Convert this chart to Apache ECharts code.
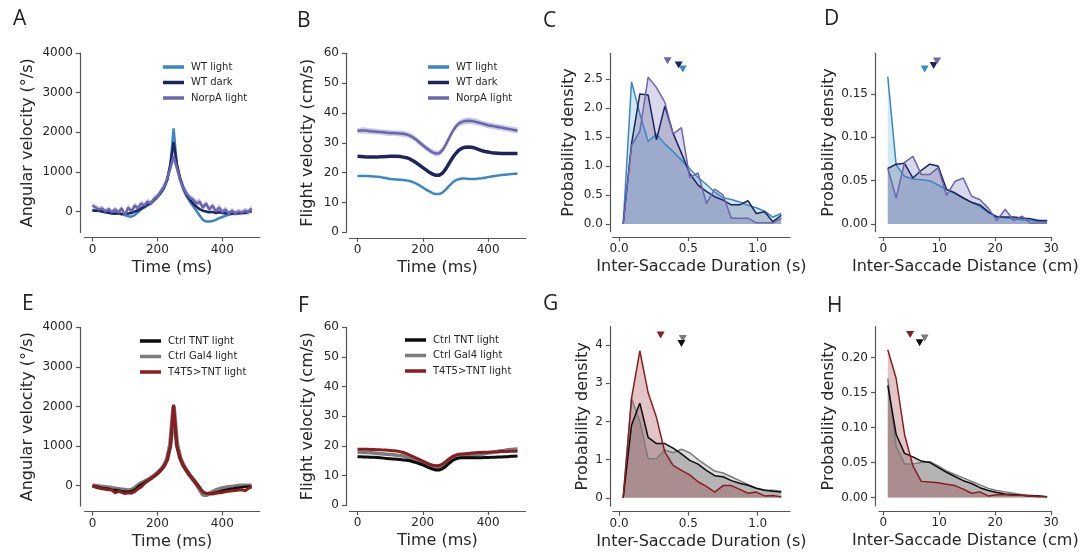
<!DOCTYPE html>
<html><head><meta charset="utf-8">
<script src="https://cdn.jsdelivr.net/npm/echarts@6/dist/echarts.min.js"></script>
<style>html,body{margin:0;padding:0;background:#fff}#c{width:1087px;height:553px}</style>
</head><body><div id="c"></div>
<script>
// ---------- DATA ----------
const T = [0,10,20,30,40,50,60,70,80,90,100,110,120,130,140,150,160,170,180,190,200,210,220,230,240,250,260,270,280,290,300,310,320,330,340,350,360,370,380,390,400,410,420,430,440,450,460,470,480,490];
const durBins = [0.03,0.09,0.15,0.21,0.27,0.33,0.39,0.45,0.51,0.57,0.63,0.69,0.75,0.81,0.87,0.93,0.99,1.05,1.11,1.17];
const distBins = [0.8,2.3,3.8,5.3,6.8,8.3,9.8,11.3,12.8,14.3,15.8,17.3,18.8,20.3,21.8,23.3,24.8,26.3,27.8,29.3];

// Panel A: angular velocity (deg/s)
const A_wtLight = [20,20,10,0,-10,-20,-30,-40,-50,-60,-80,-120,-130,-90,-20,50,100,150,210,280,360,450,580,780,1150,2100,1150,800,550,380,250,130,20,-100,-210,-250,-250,-240,-210,-170,-140,-110,-80,-60,-40,-30,-20,-10,0,0];
const A_wtDark = [30,20,30,0,-20,-30,-50,-60,-40,-70,-60,-50,-40,0,30,80,120,180,220,300,380,480,600,800,1200,1750,1200,850,600,420,300,200,120,60,20,0,-20,-10,-40,-20,-30,-50,-30,-60,-40,-50,-30,-40,-10,10];
const A_norpA = [150,100,50,80,0,60,-20,50,-30,80,-100,100,0,150,80,200,150,250,200,320,380,500,620,820,1100,1400,1100,800,600,450,350,300,200,250,100,200,50,150,0,100,-20,50,-60,20,-50,0,-30,20,-20,80];
const A_norpA_sem = [70,70,75,70,65,75,70,75,80,75,85,80,75,80,75,80,85,80,75,80,85,90,100,110,130,150,130,110,95,90,85,80,85,90,80,85,80,75,80,85,80,75,70,75,80,75,70,75,80,85];

// Panel B: flight velocity (cm/s)
const B_wtLight = [18.9,18.9,18.9,18.9,18.8,18.7,18.6,18.5,18.3,18.1,17.9,17.8,17.7,17.6,17.5,17.4,17.2,16.8,16.3,15.7,15.0,14.3,13.7,13.1,12.8,12.8,13.3,14.3,15.5,16.6,17.4,17.8,18.0,18.0,17.9,17.9,17.9,18.0,18.1,18.3,18.5,18.7,18.9,19.0,19.2,19.3,19.4,19.5,19.6,19.6];
const B_wtDark = [25.5,25.4,25.3,25.2,25.2,25.2,25.2,25.3,25.3,25.4,25.5,25.5,25.5,25.4,25.2,25.0,24.6,24.0,23.3,22.5,21.7,20.9,20.1,19.5,19.1,19.1,19.8,21.2,23.0,24.8,26.3,27.5,28.2,28.5,28.6,28.5,28.2,27.8,27.4,27.1,26.9,26.7,26.6,26.5,26.4,26.4,26.4,26.4,26.4,26.4];
const B_norpA = [34.0,34.1,34.1,34.0,33.9,33.8,33.7,33.6,33.5,33.4,33.3,33.3,33.2,33.1,33.0,32.8,32.4,31.8,31.0,30.1,29.2,28.3,27.5,26.8,26.4,26.5,27.5,29.3,31.5,33.6,35.3,36.4,37.0,37.3,37.4,37.3,37.1,36.8,36.5,36.2,35.9,35.7,35.5,35.3,35.1,34.9,34.7,34.5,34.3,34.1];
const B_norpA_sem = [1.0,1.0,1.1,1.0,1.0,1.0,0.9,0.9,1.0,1.0,1.0,0.9,0.9,1.0,1.0,1.0,1.0,1.0,1.0,1.0,1.0,1.0,1.0,1.0,1.0,1.0,1.0,1.0,1.0,1.0,1.0,1.0,1.1,1.1,1.1,1.1,1.1,1.0,1.0,1.0,1.0,1.0,1.0,1.0,1.0,1.0,1.0,1.0,1.0,1.0];

// Panel C: inter-saccade duration density
const C_wtLight = [0,2.45,1.9,1.42,1.55,1.38,1.25,1.1,0.95,0.8,0.68,0.55,0.45,0.42,0.38,0.32,0.28,0.22,0.12,0.18];
const C_wtDark = [0,1.38,2.24,2.22,1.45,2.03,1.56,1.22,0.87,0.67,0.56,0.47,0.41,0.33,0.33,0.4,0.18,0.21,0.04,0.15];
const C_norpA = [0,1.35,1.6,2.53,2.35,2.1,1.55,1.66,0.8,0.88,0.35,0.6,0.5,0.1,0.1,0.1,0.02,0.02,0.02,0.1];
const C_meanX = [0.46,0.43,0.35];   // WT light, WT dark, NorpA
const C_meanY = [2.67,2.74,2.81];

// Panel D: inter-saccade distance density
const D_wtLight = [0.17,0.068,0.055,0.052,0.051,0.05,0.045,0.04,0.035,0.03,0.025,0.02,0.013,0.009,0.007,0.006,0.005,0.004,0.003,0.003];
const D_wtDark = [0.064,0.069,0.07,0.053,0.062,0.069,0.067,0.04,0.036,0.03,0.025,0.022,0.014,0.008,0.008,0.008,0.007,0.006,0.004,0.004];
const D_norpA = [0.064,0.03,0.071,0.078,0.057,0.057,0.065,0.033,0.049,0.053,0.032,0.028,0.018,0.004,0.017,0.004,0.009,0.001,0.001,0.001];
const D_meanX = [7.4,9.0,9.6];
const D_meanY = [0.179,0.183,0.188];

// Panel E: angular velocity
const E_ctrlTNT = [0,-20,-40,-60,-70,-80,-100,-110,-120,-140,-150,-150,-140,-100,-30,30,80,130,180,240,310,390,490,650,1000,1900,1000,680,500,370,260,160,60,-40,-150,-200,-200,-190,-170,-150,-130,-110,-90,-80,-60,-50,-40,-30,-20,-20];
const E_ctrlGal4 = [0,-10,-20,-30,-40,-50,-60,-80,-90,-100,-110,-120,-110,-60,0,60,100,140,190,250,320,400,500,660,1050,2000,1050,700,510,380,260,160,50,-80,-220,-230,-200,-160,-120,-90,-70,-50,-40,-30,-20,-10,0,0,0,0];
const E_t4t5 = [0,-40,-60,-80,-90,-100,-110,-180,-140,-170,-200,-180,-190,-150,-80,-30,50,120,180,240,300,380,480,650,1000,2050,1000,700,520,380,260,150,40,-60,-160,-190,-200,-210,-190,-180,-170,-150,-140,-130,-120,-110,-100,-130,-70,-30];

// Panel F: flight velocity
const F_ctrlTNT = [16.4,16.4,16.3,16.3,16.2,16.2,16.1,16.0,15.9,15.8,15.7,15.6,15.5,15.4,15.3,15.2,15.0,14.7,14.4,14.0,13.6,13.1,12.6,12.2,11.9,11.9,12.3,13.1,14.1,15.0,15.6,15.9,16.0,16.0,16.0,16.0,16.0,16.0,16.0,16.1,16.1,16.2,16.2,16.3,16.3,16.4,16.4,16.5,16.5,16.6];
const F_ctrlGal4 = [17.9,17.9,17.8,17.8,17.7,17.6,17.5,17.4,17.3,17.2,17.1,17.0,16.9,16.8,16.6,16.3,15.9,15.5,15.0,14.5,14.0,13.5,13.0,12.6,12.5,12.6,13.2,14.1,15.1,15.9,16.4,16.6,16.6,16.6,16.6,16.7,16.8,17.0,17.2,17.4,17.6,17.8,18.0,18.2,18.4,18.5,18.7,18.8,18.9,19.0];
const F_t4t5 = [18.9,18.9,18.9,18.9,18.8,18.8,18.7,18.7,18.6,18.6,18.5,18.4,18.3,18.1,17.8,17.4,16.9,16.4,15.9,15.4,14.9,14.4,13.9,13.5,13.3,13.4,13.9,14.7,15.6,16.4,16.9,17.2,17.3,17.4,17.5,17.6,17.7,17.8,17.8,17.9,17.9,18.0,18.0,18.0,18.1,18.1,18.1,18.2,18.2,18.2];

// Panel G: duration density
const G_ctrlTNT = [0,1.9,2.48,1.58,1.42,1.42,1.3,1.15,0.98,0.88,0.72,0.58,0.55,0.45,0.38,0.33,0.25,0.2,0.17,0.15];
const G_ctrlGal4 = [0,2.6,2.0,1.02,1.03,1.25,1.18,1.27,1.18,1.0,0.85,0.7,0.65,0.55,0.45,0.35,0.25,0.2,0.2,0.17];
const G_t4t5 = [0,2.6,3.85,2.75,2.1,1.2,0.85,0.72,0.6,0.42,0.3,0.15,0.32,0.32,0.22,0.12,0.15,0.05,0.06,0.02];
const G_meanX = [0.45,0.46,0.30];   // Ctrl TNT, Ctrl Gal4, T4T5
const G_meanY = [4.04,4.17,4.26];

// Panel H: distance density
const H_ctrlTNT = [0.16,0.09,0.063,0.058,0.052,0.05,0.043,0.036,0.03,0.024,0.02,0.014,0.01,0.007,0.005,0.004,0.003,0.002,0.002,0.001];
const H_ctrlGal4 = [0.17,0.073,0.048,0.048,0.05,0.051,0.045,0.038,0.033,0.028,0.023,0.018,0.013,0.01,0.008,0.006,0.004,0.003,0.002,0.001];
const H_t4t5 = [0.211,0.17,0.09,0.045,0.023,0.022,0.021,0.019,0.017,0.012,0.006,0.008,0.002,0.004,0.004,0.003,0.003,0.002,0.001,0.001];
const H_meanX = [6.5,7.4,4.8];
const H_meanY = [0.221,0.228,0.233];

// tick labels
const ticksTime = [0,200,400];
const ticksAng = [0,1000,2000,3000,4000];
const ticksFlight = [0,10,20,30,40,50,60];
const ticksDur = [0,0.5,1.0];
const ticksDist = [0,10,20,30];
const ticksC = [0,0.5,1.0,1.5,2.0,2.5];
const ticksD = [0,0.05,0.10,0.15];
const ticksG = [0,1,2,3,4];
const ticksH = [0,0.05,0.10,0.15,0.20];

const namesTop = ['WT light','WT dark','NorpA light'];
const namesBot = ['Ctrl TNT light','Ctrl Gal4 light','T4T5>TNT light'];

// ---------- STYLE ----------
const cWTL='#3a86c6', cWTD='#1d245e', cNOR='#6a66b0', cBLK='#0d0d0d', cGRY='#7b7b7b', cRED='#8c1d1f';
const FONT='DejaVu Sans';
const axisCol='#555', txtCol='#262626';

// grid boxes: [left, top, width, height]
const G = [
  [84.5,53,175,179.5],[349.5,53.3,176,179],[612.8,53.3,177.2,178.4],[879,53.3,172.6,178.4],
  [84.5,327.3,175,178.7],[349.5,327.3,176,178],[612.8,326.7,177.2,179.5],[879,326.7,172.6,179.1]
];

const pairs=(xs,ys)=>xs.map((x,i)=>[x,ys[i]]);
const f1=v=>v.toFixed(1), f2=v=>v.toFixed(2), f0=v=>String(Math.round(v));

function xAx(i,min,max,ticks,fmt,name,offset){
  return {type:'value',gridIndex:i,min,max,offset,position:'bottom',
    name,nameLocation:'middle',nameGap:22,nameTextStyle:{fontSize:16,color:txtCol,fontFamily:FONT},
    axisLine:{show:true,onZero:false,lineStyle:{color:axisCol,width:1.2}},
    axisTick:{show:true,length:4,customValues:ticks,lineStyle:{color:axisCol,width:1.2}},
    axisLabel:{customValues:ticks,formatter:fmt,fontSize:12,color:txtCol,margin:6,fontFamily:FONT},
    splitLine:{show:false}};
}
function yAx(i,min,max,ticks,fmt,name,gap,offset){
  return {type:'value',gridIndex:i,min,max,offset,position:'left',
    name,nameLocation:'middle',nameGap:gap,nameTextStyle:{fontSize:16,color:txtCol,fontFamily:FONT},
    axisLine:{show:true,onZero:false,lineStyle:{color:axisCol,width:1.2}},
    axisTick:{show:true,length:4,customValues:ticks,lineStyle:{color:axisCol,width:1.2}},
    axisLabel:{customValues:ticks,formatter:fmt,fontSize:12,color:txtCol,margin:7,fontFamily:FONT},
    splitLine:{show:false}};
}
function lineS(name,i,xs,ys,color,w,z){
  return {type:'line',name,xAxisIndex:i,yAxisIndex:i,data:pairs(xs,ys),symbol:'none',
    lineStyle:{color,width:w},itemStyle:{color},z:z||3,silent:true,animation:false};
}
// shaded error band drawn as one polygon through the axis coordinate system
function bandS(id,i,xs,mean,sem,color,op){
  const rows=xs.map((x,k)=>[x,mean[k]-sem[k],mean[k]+sem[k]]);
  return {type:'custom',name:id,xAxisIndex:i,yAxisIndex:i,data:rows,encode:{x:0,y:[1,2]},silent:true,animation:false,z:2,clip:true,
    renderItem:function(params,api){
      if(params.dataIndex!==0) return null;
      const up=rows.map(r=>api.coord([r[0],r[2]]));
      const dn=rows.slice().reverse().map(r=>api.coord([r[0],r[1]]));
      return {type:'polygon',shape:{points:up.concat(dn)},style:{fill:color,opacity:op}};
    }};
}
function histS(name,i,xs,ys,color,fill,op){
  return {type:'line',name,xAxisIndex:i,yAxisIndex:i,data:pairs(xs,ys),symbol:'none',
    lineStyle:{color,width:1.5},itemStyle:{color},areaStyle:{color:fill,opacity:op,origin:0},silent:true,animation:false,z:3};
}
function markS(i,x,y,color){
  return {type:'scatter',name:'mean',xAxisIndex:i,yAxisIndex:i,data:[[x,y]],symbol:'triangle',symbolRotate:180,symbolSize:[8,7],
    itemStyle:{color,opacity:1},silent:true,animation:false,z:5};
}

const series=[];
// A
series.push(bandS('bA',0,T,A_norpA,A_norpA_sem,'#a9a5d6',0.6));
series.push(lineS(namesTop[0],0,T,A_wtLight,cWTL,2.5));
series.push(lineS(namesTop[1],0,T,A_wtDark,cWTD,2.5));
series.push(lineS(namesTop[2],0,T,A_norpA,cNOR,2.5));
// B
series.push(bandS('bB',1,T,B_norpA,B_norpA_sem,'#a9a5d6',0.6));
series.push(lineS(namesTop[0],1,T,B_wtLight,cWTL,2.5));
series.push(lineS(namesTop[1],1,T,B_wtDark,cWTD,3.5));
series.push(lineS(namesTop[2],1,T,B_norpA,cNOR,2.5));
// C
series.push(histS(namesTop[0],2,durBins,C_wtLight,cWTL,'#7cc3dc',0.35));
series.push(histS(namesTop[1],2,durBins,C_wtDark,cWTD,cWTD,0.2));
series.push(histS(namesTop[2],2,durBins,C_norpA,cNOR,cNOR,0.25));
series.push(markS(2,C_meanX[0],C_meanY[0],cWTL),markS(2,C_meanX[1],C_meanY[1],cWTD),markS(2,C_meanX[2],C_meanY[2],cNOR));
// D
series.push(histS(namesTop[0],3,distBins,D_wtLight,cWTL,'#7cc3dc',0.35));
series.push(histS(namesTop[1],3,distBins,D_wtDark,cWTD,cWTD,0.2));
series.push(histS(namesTop[2],3,distBins,D_norpA,cNOR,cNOR,0.25));
series.push(markS(3,D_meanX[0],D_meanY[0],cWTL),markS(3,D_meanX[1],D_meanY[1],cWTD),markS(3,D_meanX[2],D_meanY[2],cNOR));
// E
series.push(lineS(namesBot[1],4,T,E_ctrlGal4,cGRY,4.5));
series.push(lineS(namesBot[0],4,T,E_ctrlTNT,cBLK,2.5));
series.push(lineS(namesBot[2],4,T,E_t4t5,cRED,3));
// F
series.push(lineS(namesBot[1],5,T,F_ctrlGal4,cGRY,3.5));
series.push(lineS(namesBot[0],5,T,F_ctrlTNT,cBLK,3));
series.push(lineS(namesBot[2],5,T,F_t4t5,cRED,3));
// G
series.push(histS(namesBot[1],6,durBins,G_ctrlGal4,cGRY,cGRY,0.25));
series.push(histS(namesBot[0],6,durBins,G_ctrlTNT,cBLK,cBLK,0.2));
series.push(histS(namesBot[2],6,durBins,G_t4t5,cRED,cRED,0.25));
series.push(markS(6,G_meanX[1],G_meanY[1],cGRY),markS(6,G_meanX[0],G_meanY[0],cBLK),markS(6,G_meanX[2],G_meanY[2],cRED));
// H
series.push(histS(namesBot[1],7,distBins,H_ctrlGal4,cGRY,cGRY,0.25));
series.push(histS(namesBot[0],7,distBins,H_ctrlTNT,cBLK,cBLK,0.2));
series.push(histS(namesBot[2],7,distBins,H_t4t5,cRED,cRED,0.25));
series.push(markS(7,H_meanX[1],H_meanY[1],cGRY),markS(7,H_meanX[0],H_meanY[0],cBLK),markS(7,H_meanX[2],H_meanY[2],cRED));

const letters=[['A',13,9],['B',297,11],['C',543,11],['D',824,9],['E',22,294],['F',298,296],['G',543,294],['H',827,296]];

function legendAt(left,top,names){
  return {left,top,orient:'vertical',data:names,icon:'rect',itemWidth:21,itemHeight:3.5,itemGap:3.5,
    selectedMode:false,textStyle:{fontSize:10,color:txtCol,fontFamily:FONT,lineHeight:12,padding:[0,0,0,2]},padding:0};
}

const option={
  backgroundColor:'#fff',
  animation:false,
  textStyle:{fontFamily:FONT},
  title:letters.map(l=>({text:l[0],left:l[1],top:l[2],padding:0,textStyle:{fontFamily:'Open Sans',fontSize:21,fontWeight:'normal',color:'#222'}})),
  grid:G.map(g=>({left:g[0],top:g[1],width:g[2],height:g[3],containLabel:false})),
  legend:[legendAt(163,61,namesTop),legendAt(428,61,namesTop),legendAt(140,335,namesBot),legendAt(405,334,namesBot)],
  xAxis:[
    xAx(0,-24.5,514.5,ticksTime,f0,'Time (ms)',5),
    xAx(1,-24.5,514.5,ticksTime,f0,'Time (ms)',5.5),
    xAx(2,-0.045,1.233,ticksDur,f1,'Inter-Saccade Duration (s)',5.5),
    xAx(3,-0.77,30.1,ticksDist,f0,'Inter-Saccade Distance (cm)',5.5),
    xAx(4,-24.5,514.5,ticksTime,f0,'Time (ms)',5.5),
    xAx(5,-24.5,514.5,ticksTime,f0,'Time (ms)',5.7),
    xAx(6,-0.045,1.233,ticksDur,f1,'Inter-Saccade Duration (s)',5.5),
    xAx(7,-0.77,30.1,ticksDist,f0,'Inter-Saccade Distance (cm)',5.5)
  ],
  yAxis:[
    yAx(0,-530,4000,ticksAng,f0,'Angular velocity (°/s)',44,4.5),
    yAx(1,0,60,ticksFlight,f0,'Flight velocity (cm/s)',30,3.5),
    yAx(2,-0.133,2.94,ticksC,f1,'Probability density',33,3),
    yAx(3,-0.0089,0.197,ticksD,f2,'Probability density',38,4),
    yAx(4,-513,4000,ticksAng,f0,'Angular velocity (°/s)',44,4.5),
    yAx(5,0,60,ticksFlight,f0,'Flight velocity (cm/s)',30,3.5),
    yAx(6,-0.22,4.48,ticksG,f0,'Probability density',19,3),
    yAx(7,-0.0119,0.244,ticksH,f2,'Probability density',38,4)
  ],
  series
};
const chart=echarts.init(document.getElementById('c'),null,{renderer:'canvas'});
chart.setOption(option);
</script></body></html>
